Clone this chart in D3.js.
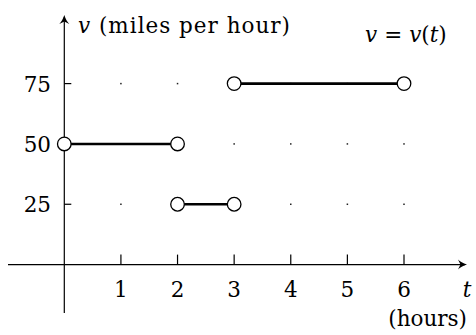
<!DOCTYPE html>
<html>
<head>
<meta charset="utf-8">
<script src="https://cdn.jsdelivr.net/npm/d3@7"></script>
<style>
  html, body { margin: 0; padding: 0; background: #fff; }
  svg { display: block; }
</style>
</head>
<body>
<svg id="chart" width="476" height="335"></svg>
<script>
// Piecewise-constant speed v(t): each segment runs from t0 to t1 at speed v
const segStart = [0, 2, 3];
const segEnd   = [2, 3, 6];
const segSpeed = [50, 25, 75];

const xTicks = [1, 2, 3, 4, 5, 6];
const yTicks = [25, 50, 75];

const FONT = "'DejaVu Serif', 'Liberation Serif', 'Times New Roman', serif";
const FS = 21.5;

const svg = d3.select("#chart");

const x = d3.scaleLinear().domain([0, 6]).range([64.3, 404]);
const y = d3.scaleLinear().domain([0, 75]).range([264.6, 83.6]);

const segments = segStart.map((t0, i) => ({ t0, t1: segEnd[i], v: segSpeed[i] }));

// faint grid dots at every tick intersection
const dots = [];
xTicks.forEach(t => yTicks.forEach(v => dots.push({ t, v })));
svg.append("g").selectAll("rect").data(dots).join("rect")
  .attr("x", d => x(d.t) - 0.75).attr("y", d => y(d.v) - 0.75)
  .attr("width", 1.5).attr("height", 1.5).attr("fill", "#222");

// arrowhead in the curved LaTeX style, pointing along +x before rotation
function arrowHead(g, px, py, angle) {
  g.append("path")
    .attr("d", "M0,0 C-4,-1.2 -7,-3 -9,-5 L-6.5,0 L-9,5 C-7,3 -4,1.2 0,0 Z")
    .attr("transform", `translate(${px},${py}) rotate(${angle})`)
    .attr("fill", "#000");
}

const axes = svg.append("g").attr("stroke", "#000").attr("stroke-width", 1.2);
// horizontal axis
axes.append("line").attr("x1", 8).attr("x2", 465).attr("y1", y(0)).attr("y2", y(0));
arrowHead(svg, 467, y(0), 0);
// vertical axis
axes.append("line").attr("x1", x(0)).attr("x2", x(0)).attr("y1", 313).attr("y2", 17);
arrowHead(svg, x(0), 15, -90);

// ticks
axes.selectAll("line.xt").data(xTicks).join("line").attr("class", "xt")
  .attr("x1", d => x(d)).attr("x2", d => x(d))
  .attr("y1", y(0)).attr("y2", y(0) - 10);
axes.selectAll("line.yt").data(yTicks).join("line").attr("class", "yt")
  .attr("x1", x(0)).attr("x2", x(0) + 7)
  .attr("y1", d => y(d)).attr("y2", d => y(d));

// tick labels
svg.selectAll("text.xl").data(xTicks).join("text").attr("class", "xl")
  .attr("x", d => x(d)).attr("y", 296.5)
  .attr("text-anchor", "middle").attr("font-size", FS).attr("font-family", FONT)
  .text(d => d);
svg.selectAll("text.yl").data(yTicks).join("text").attr("class", "yl")
  .attr("x", 51).attr("y", d => y(d) + 8)
  .attr("text-anchor", "end").attr("font-size", FS).attr("font-family", FONT)
  .text(d => d);

// horizontal segments
svg.append("g").selectAll("line").data(segments).join("line")
  .attr("x1", d => x(d.t0)).attr("x2", d => x(d.t1))
  .attr("y1", d => y(d.v)).attr("y2", d => y(d.v))
  .attr("stroke", "#000").attr("stroke-width", 2.6);

// open endpoints
const ends = [];
segments.forEach(s => { ends.push({ t: s.t0, v: s.v }); ends.push({ t: s.t1, v: s.v }); });
svg.append("g").selectAll("circle").data(ends).join("circle")
  .attr("cx", d => x(d.t)).attr("cy", d => y(d.v)).attr("r", 6.8)
  .attr("fill", "#fff").attr("stroke", "#000").attr("stroke-width", 1.3);

// axis titles
const yTitle = svg.append("text").attr("x", 78).attr("y", 33)
  .attr("font-size", FS).attr("font-family", FONT)
  .attr("textLength", 212).attr("lengthAdjust", "spacing");
yTitle.append("tspan").attr("font-style", "italic").text("v");
yTitle.append("tspan").text(" (miles per hour)");

// function label with math-style spacing around the equals sign
const fn = svg.append("text").attr("x", 365).attr("y", 42)
  .attr("font-size", FS).attr("font-family", FONT);
fn.append("tspan").attr("font-style", "italic").text("v");
fn.append("tspan").attr("dx", 7).text("=");
fn.append("tspan").attr("dx", 7).attr("font-style", "italic").text("v");
fn.append("tspan").text("(");
fn.append("tspan").attr("font-style", "italic").text("t");
fn.append("tspan").text(")");

svg.append("text").attr("x", 467).attr("y", 297).attr("font-size", FS).attr("font-family", FONT)
  .attr("font-style", "italic").attr("text-anchor", "middle").text("t");
svg.append("text").attr("x", 467).attr("y", 326).attr("font-size", FS).attr("font-family", FONT)
  .attr("text-anchor", "end").text("(hours)");
</script>
</body>
</html>
